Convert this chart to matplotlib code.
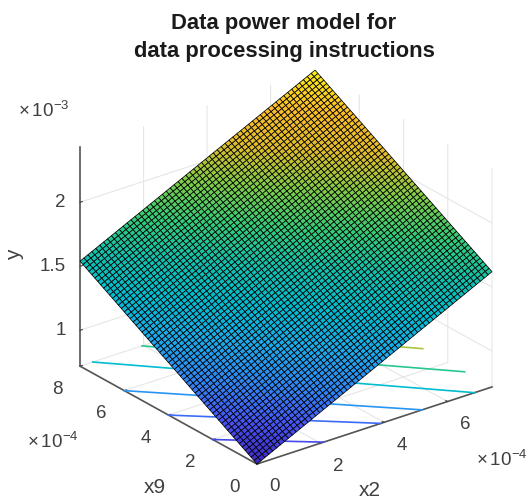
import numpy as np
import matplotlib
matplotlib.use('Agg')
import matplotlib.pyplot as plt
from matplotlib.colors import LinearSegmentedColormap, Normalize
from mpl_toolkits.mplot3d import proj3d

title_lines = ["Data power model for", "data processing instructions"]
x2_lim = (0, 7.4e-4)
x9_lim = (0, 8e-4)
y_lim = (0.72e-3, 2.43e-3)
x2_ticks = [0, 2e-4, 4e-4, 6e-4]
x2_labels = ['0', '2', '4', '6']
x9_ticks = [0, 2e-4, 4e-4, 6e-4, 8e-4]
x9_labels = ['0', '2', '4', '6', '8']
y_ticks = [1e-3, 1.5e-3, 2e-3]
y_labels = ['1', '1.5', '2']
# surface height at the four corners of the fitted range
y_00 = 0.72e-3
y_x9max = 1.54e-3
y_x2max = 1.62e-3
y_both = 2.43e-3
# floor contours
contour_x2a = [0, 0, 0, 0.4e-4, 1.95e-4, 3.47e-4]
contour_x9a = [2e-4, 4e-4, 6e-4, 8e-4, 8e-4, 8e-4]
contour_x2b = [2.1e-4, 3.9e-4, 5.2e-4, 6.85e-4, 7.4e-4, 7.4e-4]
contour_x9b = [0, 0, 0, 0, 1.24e-4, 3.13e-4]
contour_frac = [0.08, 0.15, 0.24, 0.40, 0.56, 0.74]

parula = LinearSegmentedColormap.from_list('parula', [
    (0.0, (.2422, .1504, .7603)), (.1, (.2810, .3228, .9579)),
    (.2, (.1786, .5289, .9682)), (.3, (.1085, .6669, .9234)),
    (.4, (.0, .74, .82)), (.5, (.07, .76, .68)), (.6, (.2, .80, .47)),
    (.7, (.5, .80, .28)), (.8, (.88, .74, .16)), (.9, (.99, .74, .16)),
    (1.0, (.9769, .9439, .0805))])

plt.rcParams['font.family'] = ['Liberation Sans', 'DejaVu Sans']
plt.rcParams['mathtext.fontset'] = 'custom'
plt.rcParams['mathtext.rm'] = 'Liberation Sans'
plt.rcParams['mathtext.default'] = 'rm'
GRAY = '#404040'

fig = plt.figure(figsize=(5.30, 5.02), dpi=100)
ax = fig.add_axes([0, 0, 1, 1], projection='3d', computed_zorder=False)
ax.set_proj_type('ortho')
ax.view_init(elev=25.2, azim=-127.6)
ax.set_xlim(*x2_lim, view_margin=0)
ax.set_ylim(*x9_lim, view_margin=0)
ax.set_zlim(*y_lim, view_margin=0)
BOX = (296.6, 290, 242)
ax.set_box_aspect(BOX, zoom=1.0)
ax.patch.set_alpha(0)

s, t = np.meshgrid(np.linspace(0, 1, 61), np.linspace(0, 1, 61))
X = s * x2_lim[1]
Y = t * x9_lim[1]
Z = y_00 * (1 - s) * (1 - t) + y_x2max * s * (1 - t) + y_x9max * (1 - s) * t + y_both * s * t
norm = Normalize(y_00, y_both)

for a, b, c, d, f in zip(contour_x2a, contour_x9a, contour_x2b, contour_x9b, contour_frac):
    ax.plot([a, c], [b, d], [y_lim[0], y_lim[0]], color=parula(f), lw=1.2, zorder=2)

ax.plot_surface(X, Y, Z, rstride=1, cstride=1, cmap=parula, norm=norm,
                edgecolor='black', linewidth=0.55, shade=False, antialiased=True, zorder=5)

for axis, ticks, labels in ((ax.xaxis, x2_ticks, x2_labels), (ax.yaxis, x9_ticks, x9_labels),
                            (ax.zaxis, y_ticks, y_labels)):
    axis.set_ticks(ticks)
    axis.set_ticklabels(labels, color=GRAY, fontsize=13.5)
    axis.set_pane_color((1, 1, 1, 0))
    axis.pane.set_edgecolor((1, 1, 1, 0))
    axis.line.set_color('#555555')
    axis.line.set_linewidth(1.2)
    axis._axinfo['grid'].update(color='#e6e6e6', linewidth=0.8)
    axis._axinfo['tick'].update(inward_factor=0.0, outward_factor=0.12, linewidth={True: 0.8, False: 0.5})
    axis._axinfo['tick']['color'] = GRAY
ax.tick_params(axis='x', pad=5, colors=GRAY)
ax.tick_params(axis='y', pad=6, colors=GRAY)
ax.tick_params(axis='z', pad=-1.5, colors=GRAY)


def align(axis, ha, va):
    for tick in axis.get_major_ticks():
        tick.label1.set_ha(ha)
        tick.label1.set_va(va)


align(ax.xaxis, 'left', 'center')
align(ax.yaxis, 'right', 'center')
align(ax.zaxis, 'right', 'center')


def px(x, y, z):
    u, v, _ = proj3d.proj_transform(x, y, z, ax.get_proj())
    return ax.transData.transform((u, v))


# scale and place the box so that its corners land where they should
fig.canvas.draw()
p0 = px(0, 0, y_lim[0])
p1 = px(x2_lim[1], 0, y_lim[0])
zoom = 235.0 / (p1[0] - p0[0])
ax.set_box_aspect(BOX, zoom=zoom)
fig.canvas.draw()
p0 = px(0, 0, y_lim[0])
dx, dy = (257 - p0[0]) / 530, ((502 - 465) - p0[1]) / 502
ax.set_position([dx, dy, 1, 1])

for yp, line in zip((23, 52), title_lines):
    fig.text(284 / 530, 1 - yp / 502, line, ha='center', va='center', fontsize=15.8,
             fontweight='bold', color='#1a1a1a')
for xp, yp, e in ((18, 111, -3), (27, 442, -4), (476, 460, -4)):
    fig.text(xp / 530, 1 - yp / 502, r'$\times\,10^{%d}$' % e, ha='left', va='center',
             fontsize=13.5, color=GRAY)
fig.text(155 / 530, 1 - 488 / 502, 'x9', ha='center', va='center', fontsize=15, color=GRAY)
fig.text(370 / 530, 1 - 491 / 502, 'x2', ha='center', va='center', fontsize=15, color=GRAY)
fig.text(15 / 530, 1 - 255 / 502, 'y', ha='center', va='center', rotation=90, fontsize=15, color=GRAY)

fig.savefig('out.png', dpi=100, facecolor='white')
